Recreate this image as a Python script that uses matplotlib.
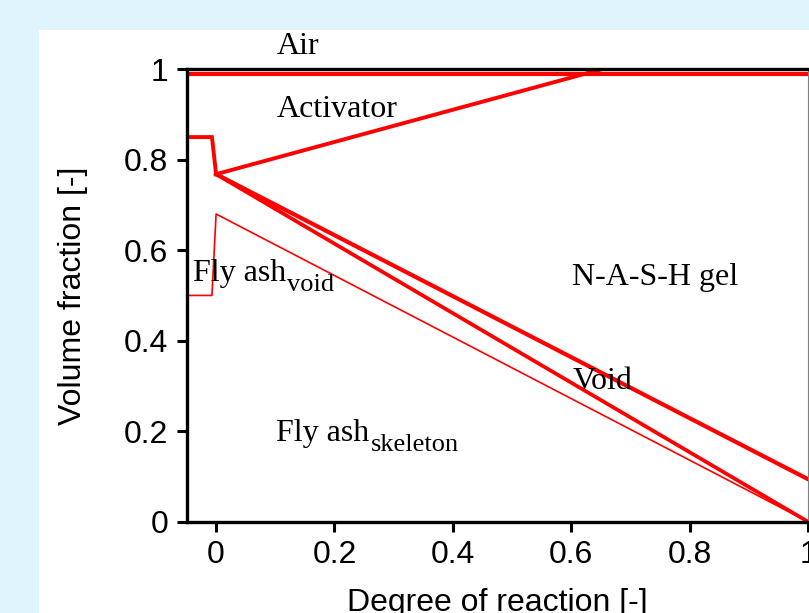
import matplotlib
matplotlib.use("Agg")
import matplotlib.pyplot as plt
from matplotlib.patches import Rectangle
from matplotlib.transforms import offset_copy

# Volume-fraction boundaries versus degree of reaction
air_x = [-0.05, 1.05]
air_y = [0.99, 0.99]

activator_x = [-0.05, -0.007, 0.0, 1.0]
activator_y = [0.85, 0.85, 0.768, 1.124]

gel_x = [0.0, 1.0]
gel_y = [0.768, 0.094]

void_x = [0.0, 1.0]
void_y = [0.768, 0.0]

skeleton_x = [-0.05, -0.007, 0.0, 1.0]
skeleton_y = [0.50, 0.50, 0.68, 0.0]

x_ticks = [0, 0.2, 0.4, 0.6, 0.8, 1.0]
x_tick_labels = ["0", "0.2", "0.4", "0.6", "0.8", "1"]
y_ticks = [0, 0.2, 0.4, 0.6, 0.8, 1.0]
y_tick_labels = ["0", "0.2", "0.4", "0.6", "0.8", "1"]

plt.rcParams["font.family"] = ["Liberation Sans", "DejaVu Sans"]

W, H = 809, 613
fig = plt.figure(figsize=(W / 100, H / 100), dpi=100)
fig.patch.set_facecolor("#dff4fc")
panel = Rectangle((39 / W, 0), 1 - 39 / W, 1 - 30 / H,
                  transform=fig.transFigure, facecolor="white",
                  edgecolor="none", zorder=-10)
fig.patches.append(panel)

left, right = 186.5, 808.0
bottom, top = 521.7, 69.2
ax = fig.add_axes([left / W, (H - bottom) / H, (right - left) / W, (bottom - top) / H])
ax.set_zorder(1)
ax.set_facecolor("white")

red = "#ff0000"
ax.plot(air_x, air_y, color=red, lw=3.0, solid_capstyle="butt")
ax.plot(activator_x, activator_y, color=red, lw=2.8, solid_joinstyle="miter")
ax.plot(gel_x, gel_y, color=red, lw=3.0)
ax.plot(void_x, void_y, color=red, lw=2.7)
ax.plot(skeleton_x, skeleton_y, color=red, lw=1.2)

ax.set_xlim(-0.05, 1.0)
ax.set_ylim(0, 1.0)
ax.set_xticks(x_ticks)
ax.set_xticklabels(x_tick_labels)
ax.set_yticks(y_ticks)
ax.set_yticklabels(y_tick_labels)

for side in ("left", "bottom", "top"):
    ax.spines[side].set_linewidth(2.4)
    ax.spines[side].set_color("black")
ax.spines["right"].set_linewidth(0.8)
ax.spines["right"].set_color("#808080")

ax.tick_params(axis="both", direction="out", length=7, width=2.2,
               labelsize=23, pad=6, colors="black")

ax.set_xlabel("Degree of reaction [-]", fontsize=23, labelpad=13)
ax.set_ylabel("Volume fraction [-]", fontsize=23, labelpad=26)

serif_family = ["Liberation Serif", "DejaVu Serif"]
serif = dict(fontsize=23, family=serif_family,
             va="baseline", ha="left", color="black")
ax.text(0.102, 1.033, "Air", clip_on=False, **serif)
ax.text(0.102, 0.894, "Activator", **serif)
ax.text(0.601, 0.523, "N-A-S-H gel", **serif)
ax.text(0.603, 0.294, "Void", **serif)


def label_with_subscript(x, y, main, sub):
    """Serif label followed by a lowered, smaller subscript."""
    t = ax.text(x, y, main, **serif)
    fig.canvas.draw()
    width_pt = t.get_window_extent().width * 72 / fig.dpi
    tr = offset_copy(ax.transData, fig=fig, x=width_pt + 0.8, y=-7.2, units="points")
    ax.text(x, y, sub, transform=tr, fontsize=19, family=serif_family,
            va="baseline", ha="left", color="black")


label_with_subscript(-0.039, 0.531, "Fly ash", "void")
label_with_subscript(0.102, 0.178, "Fly ash", "skeleton")

fig.savefig("out.png", dpi=100, facecolor=fig.get_facecolor())
